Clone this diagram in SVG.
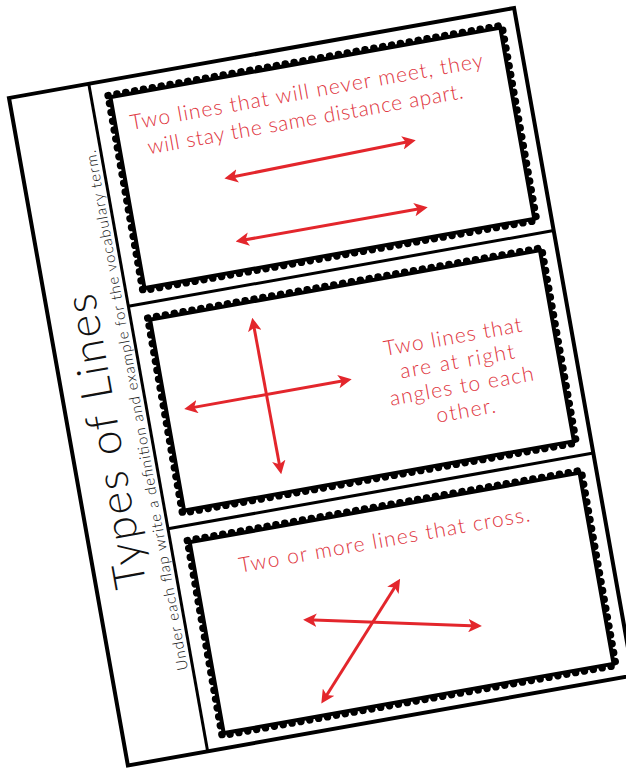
<svg xmlns="http://www.w3.org/2000/svg" width="626" height="769" viewBox="0 0 626 769">
<style>
.edge{fill:none;stroke:#000;stroke-width:4}
.div{fill:none;stroke:#000;stroke-width:3}
.frame{fill:#fff;stroke:#000;stroke-width:4}
.scal{fill:none;stroke:#000;stroke-width:7.5;stroke-dasharray:0 9;stroke-linecap:round}
.red{font-family:Lato,"Liberation Sans",sans-serif;font-size:21px;font-weight:300;fill:#e0353e}
.title{font-family:Lato,"Liberation Sans",sans-serif;font-weight:300;fill:#111}
.arr{fill:none;stroke:#e3262c;stroke-width:3;marker-start:url(#ah);marker-end:url(#ah)}
</style>
<defs>
<marker id="ah" viewBox="0 0 10 10" refX="7" refY="5" markerWidth="4.5" markerHeight="4.5" orient="auto-start-reverse" markerUnits="strokeWidth">
<path d="M0,0 L10,5 L0,10 L2.5,5 z" fill="#e3262c"/>
</marker>
</defs>
<rect width="626" height="769" fill="#fff"/>
<g transform="translate(9,98) rotate(-10.1)">
<g id="sheet">
<rect class="edge" x="0" y="0" width="513" height="678" fill="#fff"/>
<line class="div" x1="81" y1="0" x2="81" y2="678"/>
<line class="div" x1="81" y1="226" x2="513" y2="226"/>
<line class="div" x1="81" y1="452" x2="513" y2="452"/>
</g>
<g id="title">
<text class="title" font-size="44" text-anchor="middle" transform="translate(50,355) rotate(-90)" textLength="298">Types of Lines</text>
<text class="title" font-size="15" font-weight="400" text-anchor="middle" transform="translate(76,330) rotate(-90)" textLength="528">Under each flap write a definition and example for the vocabulary term.</text>
</g>
<g id="panel-parallel">
<rect class="scal" x="98" y="15" width="400" height="198"/>
<rect class="frame" x="100" y="17" width="396" height="194"/>
<text class="red" x="294" y="53" text-anchor="middle" textLength="358">Two lines that will never meet, they</text>
<text class="red" x="288" y="80" text-anchor="middle" textLength="320">will stay the same distance apart.</text>
</g>
<g id="panel-perpendicular">
<rect class="scal" x="98" y="241" width="400" height="198"/>
<rect class="frame" x="100" y="243" width="396" height="194"/>
<text class="red" x="395" y="320" text-anchor="middle" textLength="140">Two lines that</text>
<text class="red" x="395" y="345" text-anchor="middle" textLength="116">are at right</text>
<text class="red" x="395" y="370" text-anchor="middle" textLength="146">angles to each</text>
<text class="red" x="395" y="395" text-anchor="middle" textLength="60">other.</text>
</g>
<g id="panel-intersecting">
<rect class="scal" x="98" y="467" width="400" height="198"/>
<rect class="frame" x="100" y="469" width="396" height="194"/>
<text class="red" x="292" y="508" text-anchor="middle" textLength="295">Two or more lines that cross.</text>
</g>
<g id="connectors">
<line class="arr" x1="202" y1="117" x2="389" y2="113"/>
<line class="arr" x1="202" y1="181" x2="389" y2="181"/>
<line class="arr" x1="201" y1="263" x2="202" y2="414"/>
<line class="arr" x1="122" y1="337" x2="284" y2="337"/>
<line class="arr" x1="202" y1="566" x2="369" y2="602"/>
<line class="arr" x1="298" y1="545" x2="204" y2="648"/>
</g>
</g>
</svg>
